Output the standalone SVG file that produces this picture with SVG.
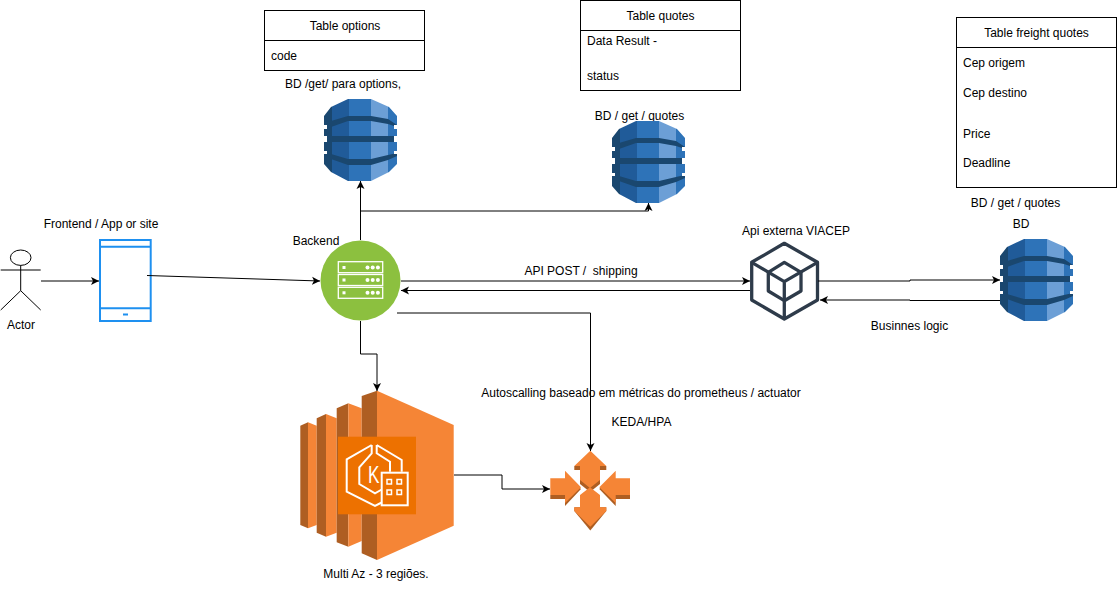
<svg xmlns="http://www.w3.org/2000/svg" width="1117" height="601" viewBox="0 0 1117 601">
<style>
text{font-family:"Liberation Sans",Arial,sans-serif;font-size:12px;fill:#000}
.m{text-anchor:middle}
.box{fill:#fff;stroke:#000;stroke-width:1}
.c{fill:none;stroke:#000;stroke-width:1;marker-end:url(#a)}
.ol{fill:#F58536}
.od{fill:#AE5E22}
.w{fill:none;stroke:#fff;stroke-width:2}
</style>
<defs>
<marker id="a" markerUnits="userSpaceOnUse" markerWidth="10" markerHeight="10" refX="8" refY="4.5" orient="auto"><path d="M0 .5L8 4.5L0 8.5L2 4.5Z" fill="#000"/></marker>
<clipPath id="dbc"><path d="M24 0H47L65 8L73 17V26H70V30H73V37H70V43H73V52H70V55H73V65L65 73L47 82H24L7 73L0 65V55H3V52H0V43H3V37H0V30H3V26H0V17L7 8Z"/></clipPath>
<g id="db">
<g clip-path="url(#dbc)">
<rect width="8" height="82" fill="#1A476F"/>
<rect x="8" width="17" height="82" fill="#205B99"/>
<rect x="25" width="22" height="82" fill="#2E73B8"/>
<rect x="47" width="17" height="82" fill="#6C9FD6"/>
<rect x="64" width="9" height="82" fill="#2E73B8"/>
<path d="M7 22L24 17H47L64 20L73 26V28L64 25L47 22H24L7 28Z" fill="#1A476F"/>
<rect y="37" width="73" height="6" fill="#1A476F"/>
<path d="M7 55L24 60H47L64 56L73 54V57L64 61L47 66H24L7 60Z" fill="#1A476F"/>
</g>
</g>
</defs>

<g id="actor" fill="none" stroke="#000">
<ellipse cx="20.700" cy="257.700" rx="10.300" ry="7.700" fill="#fff"/>
<path d="M20.700 265.400V290.700M.7 270H40.700M20.700 290.700L.7 310M20.700 290.700L40.700 310"/>
<text class="m" x="21" y="329" stroke="none">Actor</text>
</g>

<g id="frontend">
<text class="m" x="101" y="228">Frontend / App or site</text>
<rect x="100" y="240" width="50.700" height="81" fill="#fff" stroke="#1E90F0" stroke-width="2"/>
<path d="M100 246.700H150.700M100 308.300H150.700" stroke="#1E90F0" stroke-width="2" fill="none"/>
<rect x="123" y="313.500" width="5" height="2" fill="#1E90F0"/>
</g>

<g id="backend">
<circle cx="360.500" cy="280.500" r="40" fill="#8CC03F"/>
<g fill="none" stroke="#fff" stroke-width="1.300">
<rect x="338.300" y="261.700" width="44.400" height="11"/>
<rect x="338.300" y="274.500" width="44.400" height="11"/>
<rect x="338.300" y="287.300" width="44.400" height="11"/>
</g>
<g fill="#fff">
<rect x="342.500" y="266" width="3" height="3"/><circle cx="367.500" cy="267.500" r="2"/><circle cx="372.700" cy="267.500" r="2"/><circle cx="377.900" cy="267.500" r="2"/>
<rect x="342.500" y="278.500" width="3" height="3"/><circle cx="367.500" cy="280" r="2"/><circle cx="372.700" cy="280" r="2"/><circle cx="377.900" cy="280" r="2"/>
<rect x="342.500" y="291.300" width="3" height="3"/><circle cx="367.500" cy="292.800" r="2"/><circle cx="372.700" cy="292.800" r="2"/><circle cx="377.900" cy="292.800" r="2"/>
</g>
<text class="m" x="316" y="245">Backend</text>
</g>

<g id="table-options">
<rect class="box" x="264.500" y="10.500" width="160" height="60"/>
<path class="box" d="M264.500 40.500H424.500"/>
<text class="m" x="345" y="30">Table options</text>
<text x="271" y="60">code</text>
</g>

<g id="table-quotes">
<rect class="box" x="580.500" y=".5" width="160" height="90"/>
<path class="box" d="M580.500 30.500H740.500"/>
<text class="m" x="660.500" y="20">Table quotes</text>
<text x="587" y="45">Data Result -</text>
<text x="587" y="80">status</text>
</g>

<g id="table-freight">
<rect class="box" x="956.500" y="17.500" width="160" height="170"/>
<path class="box" d="M956.500 47.500H1116.500"/>
<text class="m" x="1036.500" y="37">Table freight quotes</text>
<text x="963" y="67">Cep origem</text>
<text x="963" y="97">Cep destino</text>
<text x="963" y="138">Price</text>
<text x="963" y="167">Deadline</text>
</g>

<g id="db-options">
<text class="m" x="343" y="88">BD /get/ para options,</text>
<use href="#db" x="324" y="99"/>
</g>

<g id="db-quotes">
<text class="m" x="639.500" y="120">BD / get / quotes</text>
<use href="#db" x="612" y="121"/>
</g>

<g id="db-freight">
<text class="m" x="1015.500" y="207">BD / get / quotes</text>
<text class="m" x="1021" y="228">BD</text>
<use href="#db" x="1000" y="239"/>
</g>

<g id="viacep">
<text class="m" x="796" y="235">Api externa VIACEP</text>
<g fill="none" stroke="#2E3B4A" stroke-width="3.300" stroke-linejoin="round">
<path d="M784.300 243.300L817.500 262.300V300L784.300 319L751.700 300V262.300Z"/>
<path d="M784.300 262.300L801 272.300V291L784.300 300.700L768.300 291V272.300Z"/>
<path d="M751.700 262.300L784.300 281.700L817.500 262.300M784.300 281.700V319"/>
</g>
</g>

<g id="eks">
<path class="od" d="M300.300 425.700L308 422.300V528.300L300.300 525Z"/>
<path class="ol" d="M308 422.300L316.700 425.700V525L308 528.300Z"/>
<path class="od" d="M316.700 418.300L326 414V536.700L316.700 532.700Z"/>
<path class="ol" d="M326 414L336.700 418.300V532.700L326 536.700Z"/>
<path class="od" d="M336.700 408.300L348.300 403.300V546.700L336.700 542.300Z"/>
<path class="ol" d="M348.300 403.300L361.700 408.300V541L348.300 546.700Z"/>
<path class="od" d="M361.700 396L377 390.700V560L361.700 553.300Z"/>
<path class="ol" d="M377 390.700L453.700 425V525.700L377 560Z"/>
<rect x="338" y="436.700" width="78" height="77.600" fill="#ED7100"/>
<path class="w" d="M371.700 445L346.700 459.300V491.700L375 506L381.700 502.500"/>
<path class="w" d="M376.700 445V453.300L390 461.700V471.700M376.700 445L401.700 460V471.700"/>
<path class="w" d="M371.700 445V453.300L359.300 467.300V484L375 493.300L381.700 489.500"/>
<rect class="w" x="381.700" y="472.700" width="26" height="32.600"/>
<g fill="none" stroke="#fff" stroke-width="1.500">
<rect x="387" y="479.500" width="4.500" height="4.500"/><rect x="397" y="479.500" width="4.500" height="4.500"/>
<rect x="387" y="490" width="4.500" height="4.500"/><rect x="397" y="490" width="4.500" height="4.500"/>
</g>
<text transform="translate(368 483) scale(.75 1)" style="font-size:23px;fill:#fff">K</text>
<text class="m" x="376" y="578">Multi Az - 3 regiões.</text>
</g>

<g id="autoscaling">
<text class="m" x="641" y="397">Autoscalling baseado em métricas do prometheus / actuator</text>
<text class="m" x="641.500" y="426">KEDA/HPA</text>
<path class="od" d="M574.300 466V470H580V484L590 492L600 484V470H606.300V466Z"/>
<path class="ol" d="M590.300 450.700L574.300 466H580V480L590 488L600 480V466H606.300Z"/>
<path class="od" d="M574.300 507.300V511L590.300 530.500L606.300 511V507.300Z"/>
<path class="ol" d="M590.300 526.700L574.300 511V507.300H580V495L590 487.300L600 495V507.300H606.300V511Z"/>
<path class="od" d="M550.300 495V499H565V506L581 489L578 486L565 495Z"/>
<path class="ol" d="M550.300 478.300H565V470.700L581 487.300L565 503V495H550.300Z"/>
<path class="od" d="M630 495V499H615.700V506L599.300 489L602 486L615.700 495Z"/>
<path class="ol" d="M630 478.300H615.700V470.700L599.300 487.300L615.700 503V495H630Z"/>
</g>

<g id="labels">
<text class="m" x="581" y="275">API POST /&#160; shipping</text>
<text class="m" x="909.500" y="330">Businnes logic</text>
</g>

<g id="connectors">
<path class="c" d="M41 281H99"/>
<path class="c" d="M147 275.500L320 281"/>
<path class="c" d="M360.500 240V181"/>
<path class="c" d="M360.500 240V211H648.500V203"/>
<path class="c" d="M401 281H750"/>
<path class="c" d="M750 290.500H401"/>
<path class="c" d="M818 281H910V280H1000"/>
<path class="c" d="M1000 300.500H910V300H820"/>
<path class="c" d="M360.500 321V354H377V391"/>
<path class="c" d="M397 313H590.500V451"/>
<path class="c" d="M454 475H502V489H550"/>
</g>
</svg>
